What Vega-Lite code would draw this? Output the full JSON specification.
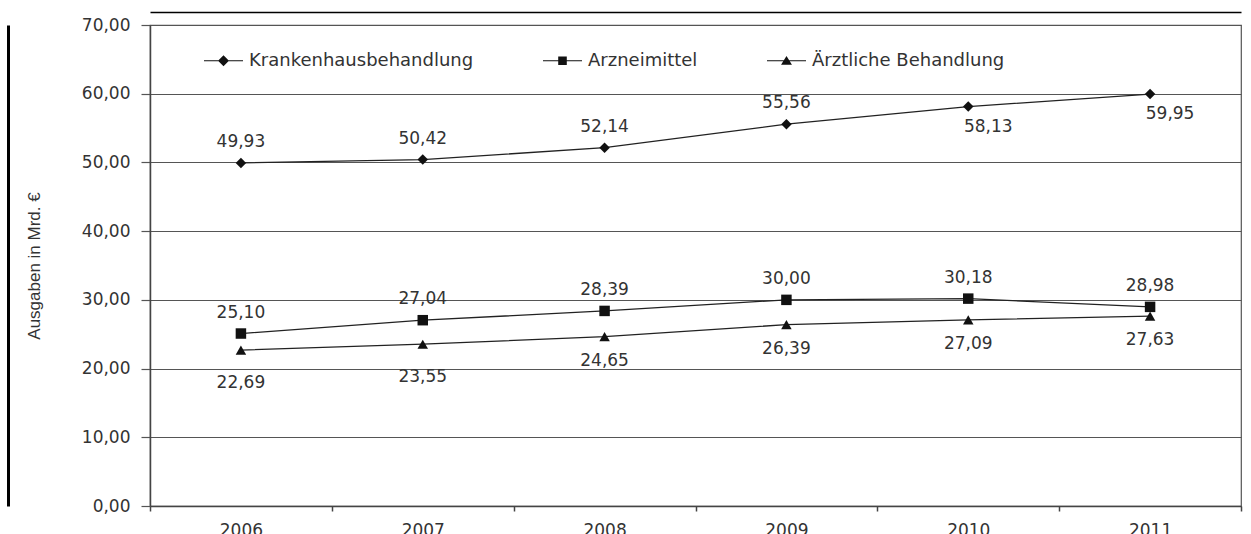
{
  "$schema": "https://vega.github.io/schema/vega-lite/v6.json",
  "width": 1091,
  "height": 481,
  "autosize": {"type": "none"},
  "padding": {"left": 150, "top": 25, "right": 10, "bottom": 28},
  "background": "white",
  "config": {
    "locale": {"number": {"decimal": ",", "thousands": ".", "grouping": [3], "currency": ["", " €"]}},
    "view": {"stroke": "#555", "strokeWidth": 1.2},
    "font": "DejaVu Sans"
  },
  "data": {
    "values": [
      {"jahr": 2006, "serie": "Krankenhausbehandlung", "wert": 49.93},
      {"jahr": 2007, "serie": "Krankenhausbehandlung", "wert": 50.42},
      {"jahr": 2008, "serie": "Krankenhausbehandlung", "wert": 52.14},
      {"jahr": 2009, "serie": "Krankenhausbehandlung", "wert": 55.56},
      {"jahr": 2010, "serie": "Krankenhausbehandlung", "wert": 58.13},
      {"jahr": 2011, "serie": "Krankenhausbehandlung", "wert": 59.95},
      {"jahr": 2006, "serie": "Arzneimittel", "wert": 25.10},
      {"jahr": 2007, "serie": "Arzneimittel", "wert": 27.04},
      {"jahr": 2008, "serie": "Arzneimittel", "wert": 28.39},
      {"jahr": 2009, "serie": "Arzneimittel", "wert": 30.00},
      {"jahr": 2010, "serie": "Arzneimittel", "wert": 30.18},
      {"jahr": 2011, "serie": "Arzneimittel", "wert": 28.98},
      {"jahr": 2006, "serie": "Ärztliche Behandlung", "wert": 22.69},
      {"jahr": 2007, "serie": "Ärztliche Behandlung", "wert": 23.55},
      {"jahr": 2008, "serie": "Ärztliche Behandlung", "wert": 24.65},
      {"jahr": 2009, "serie": "Ärztliche Behandlung", "wert": 26.39},
      {"jahr": 2010, "serie": "Ärztliche Behandlung", "wert": 27.09},
      {"jahr": 2011, "serie": "Ärztliche Behandlung", "wert": 27.63}
    ]
  },
  "resolve": {"axis": {"x": "independent", "y": "independent"}},
  "layer": [
    {
      "encoding": {
        "x": {
          "field": "jahr",
          "type": "ordinal",
          "scale": {"type": "band", "paddingInner": 0, "paddingOuter": 0},
          "axis": {
            "title": null,
            "labelAngle": 0,
            "tickBand": "extent",
            "tickSize": 5,
            "tickWidth": 1.5,
            "tickColor": "#444",
            "domainColor": "#444",
            "domainWidth": 1.5,
            "labelPadding": 11,
            "labelFont": "DejaVu Sans",
            "labelFontSize": 17,
            "labelColor": "#333",
            "grid": false
          }
        },
        "y": {
          "field": "wert",
          "type": "quantitative",
          "scale": {"domain": [0, 70], "nice": false, "zero": true},
          "axis": {
            "title": "Ausgaben in Mrd. €",
            "titleFont": "Liberation Sans",
            "titleFontSize": 17,
            "titleFontWeight": "normal",
            "titleColor": "#333",
            "titlePadding": 38,
            "values": [0, 10, 20, 30, 40, 50, 60, 70],
            "format": ".2f",
            "tickSize": 9,
            "tickWidth": 1.2,
            "tickColor": "#555",
            "domainColor": "#444",
            "domainWidth": 1.5,
            "labelPadding": 11,
            "labelFont": "DejaVu Sans",
            "labelFontSize": 17,
            "labelColor": "#333",
            "grid": true,
            "gridColor": "#555",
            "gridWidth": 1.2
          }
        }
      },
      "resolve": {"scale": {"shape": "independent"}, "legend": {"shape": "independent"}},
      "layer": [
        {
          "mark": {"type": "line", "color": "#222", "strokeWidth": 1.3},
          "encoding": {"detail": {"field": "serie"}}
        },
        {
          "mark": {"type": "point", "filled": true, "color": "#111", "size": 110, "opacity": 1},
          "encoding": {
            "shape": {
              "field": "serie",
              "type": "nominal",
              "scale": {
                "domain": ["Krankenhausbehandlung", "Arzneimittel", "Ärztliche Behandlung"],
                "range": ["diamond", "square", "triangle-up"]
              },
              "legend": null
            }
          }
        },
        {
          "mark": {"type": "point", "filled": true, "color": "#111", "size": 0, "opacity": 1},
          "encoding": {
            "shape": {
              "field": "serie",
              "type": "nominal",
              "scale": {
                "domain": ["Krankenhausbehandlung", "Arzneimittel", "Ärztliche Behandlung"],
                "range": [
                  "M-1,-0.032H1V0.032H-1ZM0,-0.28L0.28,0L0,0.28L-0.28,0Z",
                  "M-1,-0.032H1V0.032H-1ZM-0.22,-0.22H0.22V0.22H-0.22Z",
                  "M-1,-0.032H1V0.032H-1ZM0,-0.25L0.28,0.2H-0.28Z"
                ]
              },
              "legend": {
                "title": null,
                "orient": "none",
                "direction": "horizontal",
                "legendX": 53,
                "legendY": 15,
                "padding": 0,
                "symbolSize": 1521,
                "symbolFillColor": "#111",
                "symbolOpacity": 1,
                "labelOffset": 5,
                "labelLimit": 0,
                "columnPadding": 66,
                "labelFont": "DejaVu Sans",
                "labelFontSize": 18,
                "labelColor": "#333"
              }
            }
          }
        },
        {
          "transform": [{"filter": "datum.serie === 'Arzneimittel' || (datum.serie === 'Krankenhausbehandlung' && datum.jahr <= 2009)"}],
          "mark": {"type": "text", "dy": -21, "align": "center", "baseline": "middle", "font": "DejaVu Sans", "fontSize": 17, "color": "#333"},
          "encoding": {"text": {"field": "wert", "type": "quantitative", "format": ".2f"}}
        },
        {
          "transform": [{"filter": "datum.serie === 'Krankenhausbehandlung' && datum.jahr >= 2010"}],
          "mark": {"type": "text", "dy": 20, "dx": 20, "align": "center", "baseline": "middle", "font": "DejaVu Sans", "fontSize": 17, "color": "#333"},
          "encoding": {"text": {"field": "wert", "type": "quantitative", "format": ".2f"}}
        },
        {
          "transform": [{"filter": "datum.serie === 'Ärztliche Behandlung' && datum.jahr <= 2007"}],
          "mark": {"type": "text", "dy": 33, "align": "center", "baseline": "middle", "font": "DejaVu Sans", "fontSize": 17, "color": "#333"},
          "encoding": {"text": {"field": "wert", "type": "quantitative", "format": ".2f"}}
        },
        {
          "transform": [{"filter": "datum.serie === 'Ärztliche Behandlung' && datum.jahr >= 2008"}],
          "mark": {"type": "text", "dy": 24, "align": "center", "baseline": "middle", "font": "DejaVu Sans", "fontSize": 17, "color": "#333"},
          "encoding": {"text": {"field": "wert", "type": "quantitative", "format": ".2f"}}
        }
      ]
    },
    {
      "mark": {"type": "point", "opacity": 0, "size": 0},
      "encoding": {
        "x": {
          "field": "jahr",
          "type": "ordinal",
          "axis": {"orient": "top", "offset": 13, "domainColor": "#000", "domainWidth": 1.5, "labels": false, "ticks": false, "grid": false, "title": null}
        },
        "y": {
          "field": "wert",
          "type": "quantitative",
          "axis": {"orient": "left", "offset": 142, "domainColor": "#000", "domainWidth": 3, "labels": false, "ticks": false, "grid": false, "title": null}
        }
      }
    }
  ]
}
